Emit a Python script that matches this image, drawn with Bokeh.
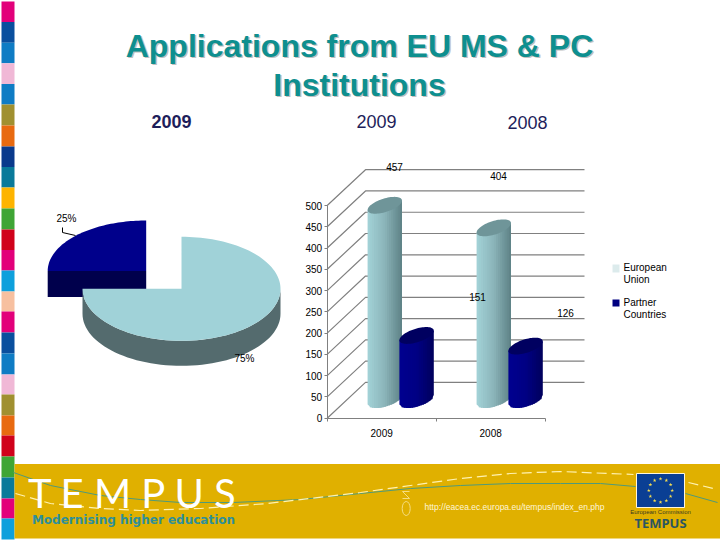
import math
from bokeh.plotting import figure
from bokeh.models import Range1d, LinearAxis, FixedTicker
from bokeh.core.properties import value
from bokeh.embed import file_html
from bokeh.resources import INLINE

# ---------- data ----------
years = ["2009", "2008"]
eu_apps = [457, 404]
pc_apps = [151, 126]
y_ticks = [0, 50, 100, 150, 200, 250, 300, 350, 400, 450, 500]
pie_labels = ["European Union", "Partner Countries"]
pie_share = [75, 25]
strip_colors = ["#e2007a", "#0a4f9e", "#0f7cc4", "#f0b8d6", "#0f7cc4", "#a09030", "#e86a10",
                "#0a3a8c", "#0a7a9a", "#fdb400", "#3fa535", "#d0021b", "#e2007a",
                "#0ea0dc", "#f7c0a0", "#e2007a", "#0a4f9e", "#0f7cc4", "#f0b8d6", "#a09030",
                "#e86a10", "#d0021b", "#3fa535", "#0a7a9a", "#e2007a", "#0ea0dc"]
strip_tops = [1, 21.6, 42.2, 62.8, 83.4, 104, 125, 146, 166.5, 187, 208, 229, 249.5,
              270, 291, 311, 332, 353, 374, 394, 415, 435, 456, 477, 498, 518, 539]

# ---------- layout constants (page pixels) ----------
W, H = 720, 540
PX_UNIT_Y = 0.4254
PX_UNIT_X = 109.0
Y0_PX, X0_PX = 417.7, 381.2

p = figure(width=W, height=H, output_backend="svg", toolbar_location=None,
           x_range=Range1d(-X0_PX / PX_UNIT_X, (W - X0_PX) / PX_UNIT_X),
           y_range=Range1d((Y0_PX - H) / PX_UNIT_Y, Y0_PX / PX_UNIT_Y),
           x_axis_location=None, y_axis_location=None,
           min_border=0, min_border_left=0, min_border_right=0, min_border_top=0, min_border_bottom=0,
           outline_line_color=None, background_fill_color="white", border_fill_color="white")
p.grid.visible = False
p.extra_x_ranges["px"] = Range1d(0, W)
p.extra_y_ranges["px"] = Range1d(H, 0)
PX = dict(x_range_name="px", y_range_name="px")
FONT = "Liberation Sans"


def label(x, y, txt, size, color="#000000", style="normal", font=FONT, align="center", **kw):
    p.text(x=[x], y=[y], text=[txt], text_font=value(font), text_font_size=f"{size}px", text_color=color,
           text_font_style=style, text_align=align, text_baseline="middle", **PX, **kw)


def mix(c1, c2, f):
    a = [int(c1[i:i + 2], 16) for i in (1, 3, 5)]
    b = [int(c2[i:i + 2], 16) for i in (1, 3, 5)]
    return "#%02x%02x%02x" % tuple(round(u + (v - u) * f) for u, v in zip(a, b))


# ---------- left colour strip ----------
p.quad(left=1, right=14, top=strip_tops[:-1], bottom=strip_tops[1:], fill_color=strip_colors,
       line_color=None, **PX)

# ---------- title ----------
title_lines = ["Applications from EU MS & PC", "Institutions"]
title_y = [45, 84]
for t, y in zip(title_lines, title_y):
    label(360.5, y + 1.5, t, 32, "#c0c0c0", "bold")
    label(359, y, t, 32, "#0e8f8f", "bold")
label(171, 121, years[0], 18, "#1e1e5a", "bold")
label(376, 121, years[0], 18, "#1e1e5a")
label(527, 122, years[1], 18, "#1e1e5a")

# ---------- pie ----------
def arc(cx, cy, a0, a1, rx, ry, n=60):
    xs, ys = [], []
    for i in range(n + 1):
        a = math.radians(a0 + (a1 - a0) * i / n)
        xs.append(cx + rx * math.sin(a))
        ys.append(cy - ry * math.cos(a))
    return xs, ys


eu_angle = 360 * pie_share[0] / sum(pie_share)
# exploded partner slice
cx2, cy2, rx2, ry2, dep2 = 145.7, 270.5, 98.5, 50.5, 26
xs, ys = arc(cx2, cy2, eu_angle, 360, rx2, ry2)
p.patch([xs[0], cx2, cx2, xs[0]], [cy2, cy2, cy2 + dep2, cy2 + dep2], fill_color="#00004c", line_color=None, **PX)
p.patch(xs + [cx2], ys + [cy2], fill_color="#00008b", line_color=None, **PX)
# main slice
cx1, cy1, rx1, ry1, dep1 = 181, 288.3, 99, 52, 25
sx, sy = arc(cx1, cy1, 90, eu_angle, rx1, ry1)
p.patch(sx + sx[::-1], sy + [v + dep1 for v in sy[::-1]], fill_color="#546b6e", line_color=None, **PX)
xs, ys = arc(cx1, cy1, 0, eu_angle, rx1, ry1, 120)
p.patch(xs + [cx1], ys + [cy1], fill_color="#a0d2d8", line_color=None, **PX)
label(66, 218, f"{pie_share[1]}%", 10)
label(244, 358, f"{pie_share[0]}%", 10)
p.line([62, 62, 75], [227, 232, 235], line_color="#000000", line_width=1, **PX)

# ---------- 3-D bar chart frame ----------
dx_back = 38.3 / PX_UNIT_X
dy_back = 35.8 / PX_UNIT_Y
x_left, x_right = -0.5, 1.5
back_right = (584 - X0_PX) / PX_UNIT_X
grid = "#808080"
for v in y_ticks:
    p.line([x_left, x_left + dx_back, back_right], [v, v + dy_back, v + dy_back],
           line_color=grid, line_width=1.2)

yaxis = LinearAxis(fixed_location=x_left, bounds=(0, 500), ticker=FixedTicker(ticks=y_ticks),
                   axis_line_color=grid, major_tick_line_color=grid, major_tick_out=3, major_tick_in=0,
                   minor_tick_line_color=None, major_label_standoff=2,
                   major_label_text_font=FONT, major_label_text_font_size="10px", major_label_text_color="#000000")
p.add_layout(yaxis, "left")
bounds = [x_left, 0.5, x_right]
xaxis = LinearAxis(fixed_location=0, bounds=(x_left, x_right), ticker=FixedTicker(ticks=bounds),
                   major_label_overrides={b: "" for b in bounds},
                   axis_line_color=grid, major_tick_line_color=grid, major_tick_out=3, major_tick_in=0,
                   minor_tick_line_color=None)
p.add_layout(xaxis, "below")
xlab = LinearAxis(fixed_location=0, bounds=(x_left, x_right), ticker=FixedTicker(ticks=list(range(len(years)))),
                  major_label_overrides={i: y for i, y in enumerate(years)},
                  axis_line_color=None, major_tick_line_color=None, minor_tick_line_color=None,
                  major_label_standoff=5, major_label_text_font=FONT, major_label_text_font_size="10px",
                  major_label_text_color="#000000")
p.add_layout(xlab, "below")

# ---------- cylinders ----------
RX = 17.2 / PX_UNIT_X
TILT = 4.7 / PX_UNIT_Y
RY = 7.0 / PX_UNIT_Y
OFF_X = 19.0 / PX_UNIT_X
OFF_Y = 43.5
SEP = 15.9 / PX_UNIT_X


def cylinder(cx, val, c_left, c_mid, c_right, c_top):
    base = OFF_Y
    top = val + OFF_Y
    n = 16
    low = lambda t: base + TILT * t - RY * math.sqrt(max(0, 1 - t * t))
    xs_, ys_, cols = [], [], []
    for i in range(n):
        t0 = -1 + 2 * i / n
        t1 = -1 + 2 * (i + 1) / n
        tm = (t0 + t1) / 2
        over = 0.009 if i < n - 1 else 0
        xs_.append([cx + RX * t0, cx + RX * t1 + over, cx + RX * t1 + over, cx + RX * t0])
        ys_.append([low(t0), low(t1), top + TILT * t1, top + TILT * t0])
        f = (tm + 1) / 2
        cols.append(mix(c_left, c_mid, f / 0.5) if f < 0.5 else mix(c_mid, c_right, (f - 0.5) / 0.5))
    p.patches(xs_, ys_, fill_color=cols, line_color=None)
    ex, ey = [], []
    for k in range(73):
        th = math.radians(5 * k)
        ex.append(cx + RX * math.cos(th))
        ey.append(top + TILT * math.cos(th) + RY * math.sin(th))
    p.patch(ex, ey, fill_color=c_top, line_color=None)


for i, (a, b) in enumerate(zip(eu_apps, pc_apps)):
    cylinder(i + OFF_X - SEP, a, "#a3d3d8", "#8bb4b9", "#5d8185", "#6f9599")
    cylinder(i + OFF_X + SEP, b, "#000090", "#000084", "#00005c", "#000060")

# value labels
eu_lab_px = [(394, 166), (498, 175)]
pc_lab_px = [(477, 296), (565, 312)]
for (x, y), v in zip(eu_lab_px, eu_apps):
    label(x, y, str(v), 10)
for (x, y), v in zip(pc_lab_px, pc_apps):
    label(x, y, str(v), 10)

# ---------- legend ----------
p.quad(left=[612, 612], right=[619, 619], top=[264, 299], bottom=[272, 306],
       fill_color=["#dcebec", "#000080"], line_color=None, **PX)
label(623, 267, "European", 10, align="left")
label(623, 279, "Union", 10, align="left")
label(623, 302, "Partner", 10, align="left")
label(623, 314, "Countries", 10, align="left")

# ---------- footer ----------
p.quad(left=[14], right=[720], top=[463.5], bottom=[538], fill_color="#e0b000", line_color=None, **PX)
teal_x = [13, 50, 100, 140, 180, 233, 300, 360, 410, 460, 510, 560, 600, 635]
teal_y = [472, 485, 495, 499, 502, 502, 499, 493, 488, 485, 483, 483, 483, 486]
p.line(teal_x, teal_y, line_color="#4f9a7a", line_width=1, **PX)
p.line([685, 717], [493, 502], line_color="#4f9a7a", line_width=1, **PX)
white_x = [15, 50, 100, 140, 200, 267, 360, 410, 460, 510, 560, 633]
white_y = [493, 503, 508, 510, 508, 503, 492, 485, 478, 473, 471, 474]
p.line(white_x, white_y, line_color="#fff2b0", line_width=1.2, line_dash=[10, 5], **PX)
p.line([688, 717], [482, 489], line_color="#fff2b0", line_width=1.2, line_dash=[10, 5], **PX)

label(132.5, 492, "T E M P U S", 40, "#ffffff", font="Lato")
label(133, 519, "Modernising higher education", 12, "#2e8f9a", "bold", font="DejaVu Sans")
label(424, 506, "http://eacea.ec.europa.eu/tempus/index_en.php", 8.5, "#fff6d8", align="left")

# small ornament
p.ellipse(x=[405.7], y=[508], width=8, height=14, fill_color=None, line_color="#f5dd80", line_width=1, **PX)
p.line([402, 409, 402, 409], [498, 498, 491, 491], line_color="#f5dd80", line_width=1, **PX)

# EU logo
p.quad(left=[636], right=[684], top=[473], bottom=[507], fill_color="#0a3f94", line_color="#fff6d8", line_width=1, **PX)
star_x, star_y = [], []
for k in range(12):
    a = math.radians(30 * k)
    star_x.append(660 + 11.7 * math.cos(a))
    star_y.append(490 + 11.7 * math.sin(a))
p.scatter(star_x, star_y, marker="star", size=4, fill_color="#f5dd50", line_color=None, **PX)
label(660, 511, "European Commission", 6, "#3a3a20")
label(660, 522, "TEMPUS", 13, "#2b5560", "bold", font="Open Sans")

open("out.html", "w").write(file_html(p, INLINE))
